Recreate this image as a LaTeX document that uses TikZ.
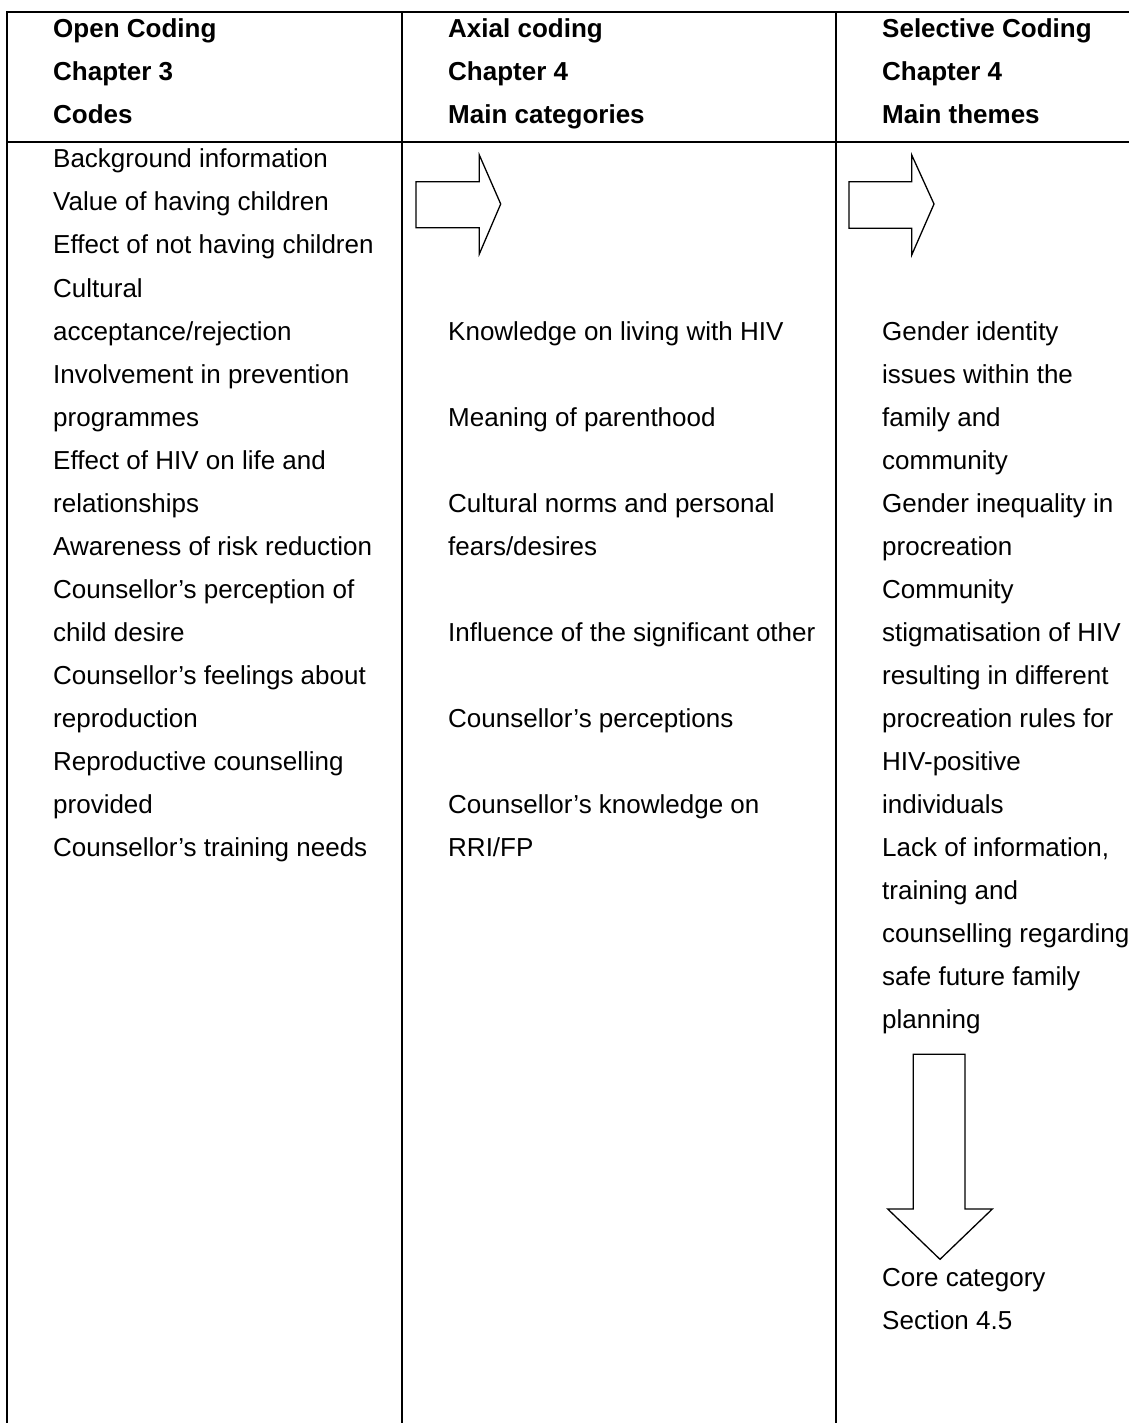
\documentclass[tikz,border=0pt]{standalone}
\usepackage{fontspec}
\setmainfont{Liberation Sans}
\begin{document}
\begin{tikzpicture}[x=1pt,y=-1pt,
  rule/.style={line width=2pt},
  blockarrow/.style={draw,line width=1.3pt,line join=miter,fill=white},
  cell/.style={anchor=base west,inner sep=0pt,font=\fontsize{26}{43}\selectfont},
  headcell/.style={cell,font=\fontsize{26}{43}\selectfont\bfseries}]
\useasboundingbox (0,0) rectangle (1129,1423);

% table rules
\draw[rule] (7.3,1423) -- (7.3,12) -- (1129,12);
\draw[rule] (7.3,142) -- (1129,142);
\draw[rule] (402,12) -- (402,1423);
\draw[rule] (836,12) -- (836,1423);

% header rows
\node[headcell] (h11) at (53,38)  {Open Coding};
\node[headcell] (h12) at (53,81)  {Chapter 3};
\node[headcell] (h13) at (53,124) {Codes};
\node[headcell] (h21) at (448,38)  {Axial coding};
\node[headcell] (h22) at (448,81)  {Chapter 4};
\node[headcell] (h23) at (448,124) {Main categories};
\node[headcell] (h31) at (882,38)  {Selective Coding};
\node[headcell] (h32) at (882,81)  {Chapter 4};
\node[headcell] (h33) at (882,124) {Main themes};

% body lines: baseline of line n is 168 + 43(n-1)
\newcommand{\rowy}[1]{168+43*(#1-1)}

% codes
\foreach \n/\t in {1/Background information,
                   2/Value of having children,
                   3/Effect of not having children,
                   4/Cultural,
                   5/acceptance\slash rejection,
                   6/Involvement in prevention,
                   7/programmes,
                   8/Effect of HIV on life and,
                   9/relationships,
                   10/Awareness of risk reduction,
                   11/Counsellor’s perception of,
                   12/child desire,
                   13/Counsellor’s feelings about,
                   14/reproduction,
                   15/Reproductive counselling,
                   16/provided,
                   17/Counsellor’s training needs}
  \node[cell] (a\n) at (53,{\rowy{\n}}) {\t};

% main categories
\foreach \n/\t in {5/Knowledge on living with HIV,
                   7/Meaning of parenthood,
                   9/Cultural norms and personal,
                   10/fears\slash desires,
                   12/Influence of the significant other,
                   14/Counsellor’s perceptions,
                   16/Counsellor’s knowledge on,
                   17/RRI\slash FP}
  \node[cell] (b\n) at (448,{\rowy{\n}}) {\t};

% main themes
\foreach \n/\t in {5/Gender identity,
                   6/issues within the,
                   7/family and,
                   8/community,
                   9/Gender inequality in,
                   10/procreation,
                   11/Community,
                   12/stigmatisation of HIV,
                   13/resulting in different,
                   14/procreation rules for,
                   15/HIV-positive,
                   16/individuals,
                   17/{Lack of information,},
                   18/training and,
                   19/counselling regarding,
                   20/safe future family,
                   21/planning,
                   27/Core category,
                   28/Section 4.5}
  \node[cell] (c\n) at (882,{\rowy{\n}}) {\t};

% block arrows
\draw[blockarrow] (416,181.7) -- (479.3,181.7) -- (479.3,155) -- (500.7,204)
  -- (479.3,254) -- (479.3,227.7) -- (416,227.7) -- cycle;
\draw[blockarrow] (849,181.7) -- (911.7,181.7) -- (911.7,155) -- (934,204)
  -- (911.7,255) -- (911.7,228.3) -- (849,228.3) -- cycle;
\draw[blockarrow] (913.3,1054.3) -- (965,1054.3) -- (965,1209) -- (992.3,1209)
  -- (940,1259.3) -- (887.7,1209) -- (913.3,1209) -- cycle;
\end{tikzpicture}
\end{document}
